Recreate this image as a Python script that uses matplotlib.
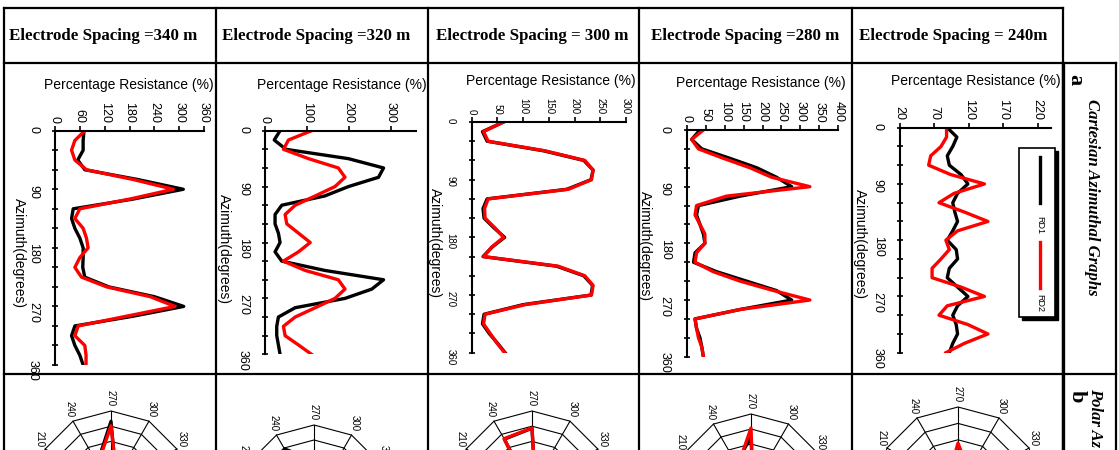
import matplotlib
matplotlib.use('Agg')
import matplotlib.pyplot as plt
from matplotlib.lines import Line2D
from matplotlib.patches import Rectangle
from matplotlib.ticker import MultipleLocator
import numpy as np

W, H = 1119, 450

azimuth = list(range(0, 361, 15))
headers = ['Electrode Spacing =340 m', 'Electrode Spacing =320 m',
           'Electrode Spacing = 300 m', 'Electrode Spacing =280 m',
           'Electrode Spacing = 240m']

# RD1 / RD2 percentage resistance, read every 15 degrees
rd1_340 = [70, 68, 68, 55, 72, 200, 310, 189, 44, 40, 48, 60, 68, 68, 67, 72, 130, 240, 311, 189, 48, 40, 48, 60, 68]
rd2_340 = [72, 48, 40, 48, 76, 189, 286, 181, 60, 48, 68, 76, 80, 60, 48, 64, 125, 230, 290, 173, 56, 48, 72, 75, 75]
rd1_320 = [36, 22, 50, 199, 283, 271, 199, 143, 40, 24, 24, 32, 36, 24, 40, 143, 283, 255, 191, 72, 32, 28, 28, 32, 36]
rd2_320 = [111, 56, 44, 104, 175, 191, 167, 120, 72, 48, 52, 80, 108, 80, 44, 96, 175, 191, 167, 120, 72, 44, 48, 80, 111]
rd1_300 = [62, 21, 30, 140, 218, 236, 232, 185, 30, 22, 24, 43, 64, 40, 22, 165, 218, 235, 232, 100, 24, 21, 34, 50, 65]
rd2_300 = [62, 23, 32, 143, 220, 236, 233, 188, 32, 25, 26, 45, 62, 39, 23, 168, 220, 236, 233, 104, 26, 23, 36, 49, 64]
rd1_280 = [35, 13, 40, 114, 185, 237, 277, 141, 31, 26, 35, 44, 48, 22, 18, 79, 158, 237, 277, 141, 22, 26, 35, 40, 44]
rd2_280 = [44, 13, 31, 97, 167, 224, 325, 105, 26, 22, 35, 48, 48, 26, 22, 70, 141, 229, 325, 141, 22, 26, 31, 40, 44]
rd1_240 = [89, 103, 97, 89, 92, 109, 119, 104, 97, 100, 104, 97, 89, 102, 104, 92, 89, 104, 119, 104, 97, 102, 104, 97, 92]
rd2_240 = [88, 88, 80, 65, 62, 94, 143, 99, 77, 114, 148, 104, 87, 92, 80, 67, 67, 109, 143, 89, 77, 119, 148, 114, 87]

rd1_all = [rd1_340, rd1_320, rd1_300, rd1_280, rd1_240]
rd2_all = [rd2_340, rd2_320, rd2_300, rd2_280, rd2_240]
x_limits = [(0, 360), (0, 360), (0, 300), (0, 400), (20, 240)]
x_ticks = [list(range(0, 361, 60)), list(range(0, 301, 100)), list(range(0, 301, 50)),
           list(range(0, 401, 50)), list(range(20, 221, 50))]
spoke_labels = list(range(0, 360, 30))
shown_spokes = [210, 240, 270, 300, 330]

# layout in pixels
cart_boxes = [(55, 204, 130.7, 365), (265, 415.8, 130.7, 354.3), (471.7, 626, 122, 352.7),
              (686.7, 838.3, 130, 356.7), (899.7, 1051.3, 127.7, 352.7)]
title_pos = [(129, 85), (342, 85), (551, 81), (761, 83), (976, 81)]
azlab_pos = [(19, 253), (224, 249), (435, 243), (645, 246), (860, 244)]
tick_sizes = [9, 9, 7, 9, 9]
header_x = [9, 222, 436, 651, 859]
polar_centers = [(111, 487, 76), (314, 500, 75), (532, 487, 76), (751, 489, 75), (958, 489, 82)]

fig = plt.figure(figsize=(W / 100, H / 100), dpi=100)


def fx(x):
    return x / W


def fy(y):
    return 1 - y / H


def box(l, r, t, b):
    return [l / W, 1 - b / H, (r - l) / W, (b - t) / H]


def hline(y, x0, x1, lw=1.6):
    fig.add_artist(Line2D([fx(x0), fx(x1)], [fy(y), fy(y)], transform=fig.transFigure, color='black', lw=lw))


def vline(x, y0, y1, lw=1.6):
    fig.add_artist(Line2D([fx(x), fx(x)], [fy(y0), fy(y1)], transform=fig.transFigure, color='black', lw=lw))


# table
hline(8, 4, 1063)
hline(63, 4, 1116)
hline(374, 4, 1116)
for xv in [4, 216, 428, 639, 852, 1063]:
    vline(xv, 8, 450)
vline(1116, 63, 450)
vline(1063, 63, 450, lw=2.4)

for i, txt in enumerate(headers):
    fig.text(fx(header_x[i]), fy(36), txt, family='Liberation Serif', weight='bold',
             fontsize=12.2, ha='left', va='center')

fig.text(fx(1075), fy(80), 'a', family='Liberation Serif', weight='bold', fontsize=16,
         rotation=270, ha='center', va='center')
fig.text(fx(1092), fy(99), 'Cartesian Azimuthal Graphs', family='Liberation Serif',
         weight='bold', style='italic', fontsize=12, rotation=270, ha='center', va='top')
fig.text(fx(1077), fy(396), 'b', family='Liberation Serif', weight='bold', fontsize=16,
         rotation=270, ha='center', va='center')
fig.text(fx(1095), fy(388), 'Polar Az', family='Liberation Serif',
         weight='bold', style='italic', fontsize=12, rotation=270, ha='center', va='top')

# cartesian azimuthal graphs (rotated layout)
for i in range(5):
    ax = fig.add_axes(box(*cart_boxes[i]))
    ax.patch.set_visible(False)
    ax.plot(rd1_all[i], azimuth, color='black', lw=2.4, solid_joinstyle='round')
    ax.plot(rd2_all[i], azimuth, color='#ff0000', lw=2.4, solid_joinstyle='round')
    ax.set_xlim(*x_limits[i])
    ax.set_ylim(360, 0)
    ax.xaxis.tick_top()
    ax.set_xticks(x_ticks[i])
    ax.set_yticks([0, 90, 180, 270, 360])
    ax.yaxis.set_minor_locator(MultipleLocator(30))
    ax.spines['right'].set_visible(False)
    ax.spines['bottom'].set_visible(False)
    ax.spines['left'].set_linewidth(1.5)
    ax.spines['top'].set_linewidth(1.5)
    ax.tick_params(axis='x', direction='out', length=3.5, width=1.2, pad=2,
                   labelsize=tick_sizes[i], labelrotation=270)
    ax.tick_params(axis='y', which='both', direction='inout', length=5, width=1.2, pad=9,
                   labelsize=tick_sizes[i], labelrotation=270)
    for lab in ax.get_xticklabels():
        lab.set_family('Liberation Sans')
    for lab in ax.get_yticklabels():
        lab.set_family('Liberation Sans')
    fig.text(fx(title_pos[i][0]), fy(title_pos[i][1]), 'Percentage Resistance (%)',
             family='Liberation Sans', fontsize=10, ha='center', va='center')
    fig.text(fx(azlab_pos[i][0]), fy(azlab_pos[i][1]), 'Azimuth(degrees)',
             family='Liberation Sans', fontsize=10, rotation=270, ha='center', va='center')

# legend on the last panel
fig.add_artist(Rectangle((fx(1022), fy(320)), 36 / W, 169 / H, transform=fig.transFigure,
                         facecolor='black', edgecolor='black'))
fig.add_artist(Rectangle((fx(1019), fy(317)), 36 / W, 169 / H, transform=fig.transFigure,
                         facecolor='white', edgecolor='black', lw=1.2))
fig.add_artist(Line2D([fx(1040), fx(1040)], [fy(157), fy(203)], transform=fig.transFigure,
                      color='black', lw=2.4))
fig.add_artist(Line2D([fx(1040), fx(1040)], [fy(242), fy(288)], transform=fig.transFigure,
                      color='#ff0000', lw=2.4))
fig.text(fx(1040), fy(225), 'RD1', family='Liberation Sans', fontsize=6.5, rotation=270,
         ha='center', va='center')
fig.text(fx(1040), fy(303), 'RD2', family='Liberation Sans', fontsize=6.5, rotation=270,
         ha='center', va='center')

# polar (radar) graphs, only the top part is visible
for i in range(5):
    cx, cy, R = polar_centers[i]
    pax = fig.add_axes(box(cx - R, cx + R, cy - R, cy + R), projection='polar')
    pax.set_theta_zero_location('E')
    pax.set_theta_direction(-1)
    lo, hi = x_limits[i]
    pax.set_ylim(lo, hi)
    pax.grid(False)
    pax.set_xticks([])
    pax.set_yticks([])
    pax.spines['polar'].set_visible(False)
    pax.patch.set_visible(False)
    th = np.deg2rad(spoke_labels + [0])
    for k in range(1, 6):
        rr = lo + (hi - lo) * k / 5
        pax.plot(th, [rr] * len(th), color='black', lw=0.8, clip_on=False)
    for a in spoke_labels:
        t = np.deg2rad(a)
        pax.plot([t, t], [lo, hi], color='black', lw=0.8, clip_on=False)
    for a in shown_spokes:
        t = np.deg2rad(a)
        dx = 4.3 * np.cos(t)
        dy = -4.3 * np.sin(t) + 5
        pax.annotate(str(a), xy=(t, hi), xytext=(dx, dy), textcoords='offset points',
                     family='Liberation Sans', fontsize=7, rotation=270,
                     ha='center', va='center', annotation_clip=False)
    th_d = np.deg2rad(azimuth[::2])
    pax.plot(th_d, rd1_all[i][::2], color='black', lw=2.4, clip_on=False)
    pax.plot(th_d, rd2_all[i][::2], color='#ff0000', lw=2.4, clip_on=False)

fig.savefig('out.png', dpi=100)
